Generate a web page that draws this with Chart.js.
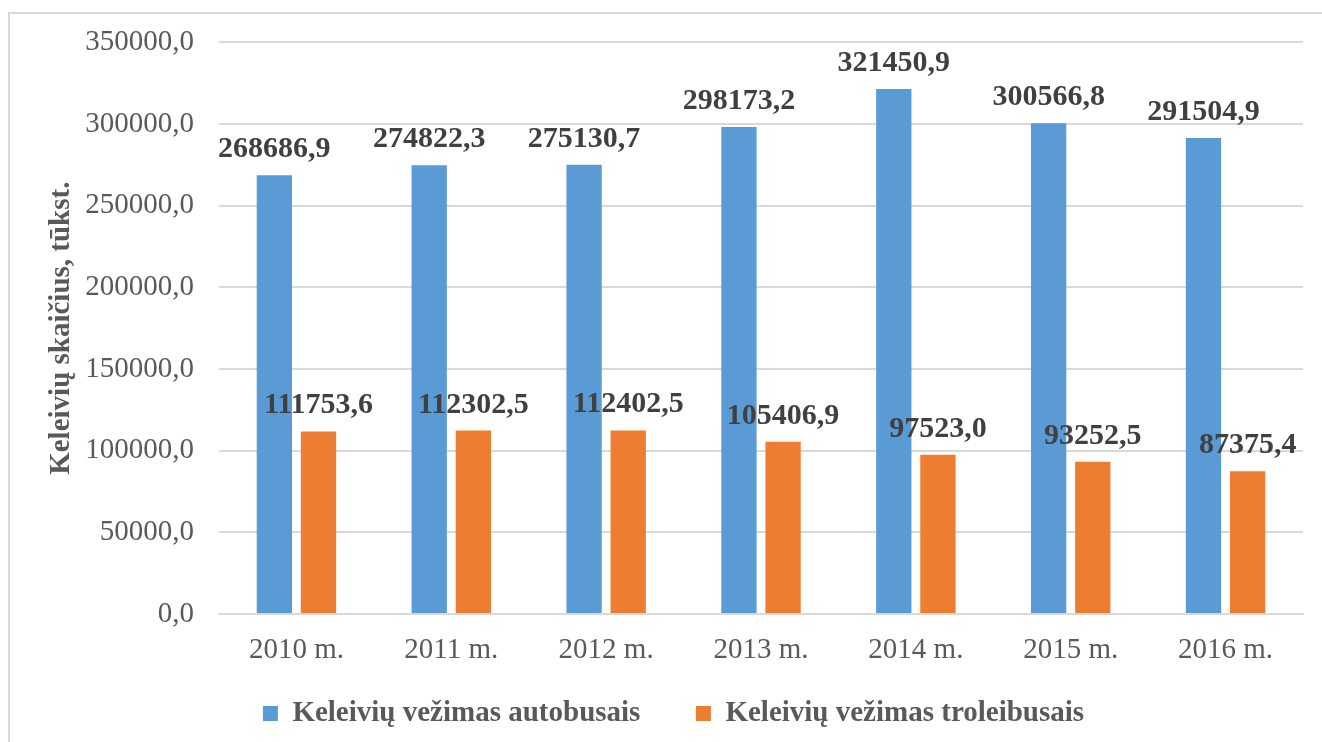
<!DOCTYPE html>
<html>
<head>
<meta charset="utf-8">
<script src="https://cdn.jsdelivr.net/npm/chart.js@4/dist/chart.umd.min.js"></script>
<style>
  body { margin: 0; background: #fff; }
  #wrap { position: relative; width: 1322px; height: 742px; }
</style>
</head>
<body>
<div id="wrap"><canvas id="myChart" width="1322" height="742"></canvas></div>
<script>
var years = ["2010 m.", "2011 m.", "2012 m.", "2013 m.", "2014 m.", "2015 m.", "2016 m."];
var autobusai = [268686.9, 274822.3, 275130.7, 298173.2, 321450.9, 300566.8, 291504.9];
var troleibusai = [111753.6, 112302.5, 112402.5, 105406.9, 97523.0, 93252.5, 87375.4];
var seriesNames = ["Keleivių vežimas autobusais", "Keleivių vežimas troleibusais"];
var barColors = ["#5b9bd5", "#ed7d31"];

var serif = "'Liberation Serif', 'Times New Roman', serif";

function lt(v) {
  return v.toFixed(1).replace(".", ",");
}

// outer frame like the spreadsheet chart area
var framePlugin = {
  id: "frame",
  beforeDraw: function (chart) {
    var ctx = chart.ctx;
    ctx.save();
    ctx.strokeStyle = "#d9d9d9";
    ctx.lineWidth = 2;
    ctx.strokeRect(9, 13, 1400, 800);
    ctx.restore();
  }
};

// value labels above each bar
var valuePlugin = {
  id: "values",
  afterDatasetsDraw: function (chart) {
    var ctx = chart.ctx;
    ctx.save();
    ctx.font = "bold 30px " + serif;
    ctx.fillStyle = "#404040";
    ctx.textAlign = "center";
    ctx.textBaseline = "alphabetic";
    chart.data.datasets.forEach(function (ds, i) {
      chart.getDatasetMeta(i).data.forEach(function (bar, j) {
        ctx.fillText(lt(ds.data[j]), bar.x, bar.y - 18);
      });
    });
    ctx.restore();
  }
};

new Chart("myChart", {
  type: "bar",
  data: {
    labels: years,
    datasets: [
      { label: seriesNames[0], data: autobusai, backgroundColor: barColors[0] },
      { label: seriesNames[1], data: troleibusai, backgroundColor: barColors[1] }
    ]
  },
  options: {
    responsive: false,
    animation: false,
    layout: { padding: { top: 21, right: 19, bottom: 4, left: 44 } },
    datasets: { bar: { categoryPercentage: 0.57, barPercentage: 0.8 } },
    plugins: {
      legend: {
        position: "bottom",
        labels: {
          font: { family: serif, size: 29, weight: "bold" },
          color: "#595959",
          boxWidth: 15,
          boxHeight: 15,
          padding: 12,
          generateLabels: function (chart) {
            var items = Chart.defaults.plugins.legend.labels.generateLabels(chart);
            // wider gap between the two entries
            items[0].text = items[0].text + "      ";
            return items;
          }
        }
      },
      tooltip: { enabled: false }
    },
    scales: {
      x: {
        grid: { display: false, drawTicks: false },
        border: { color: "#d9d9d9", width: 2 },
        ticks: { font: { family: serif, size: 29, lineHeight: 1 }, color: "#595959", padding: 22 }
      },
      y: {
        min: 0,
        max: 350000,
        afterFit: function (scale) { scale.width = 175; },
        grid: { color: "#d9d9d9", lineWidth: 2, drawTicks: false },
        border: { display: false },
        ticks: {
          stepSize: 50000,
          font: { family: serif, size: 29 },
          color: "#595959",
          padding: 25,
          callback: function (v) { return lt(v); }
        },
        title: {
          display: true,
          text: "Keleivių skaičius, tūkst.",
          font: { family: serif, size: 29, weight: "bold" },
          color: "#595959",
          padding: { top: 0 }
        }
      }
    }
  },
  plugins: [framePlugin, valuePlugin]
});
</script>
</body>
</html>
